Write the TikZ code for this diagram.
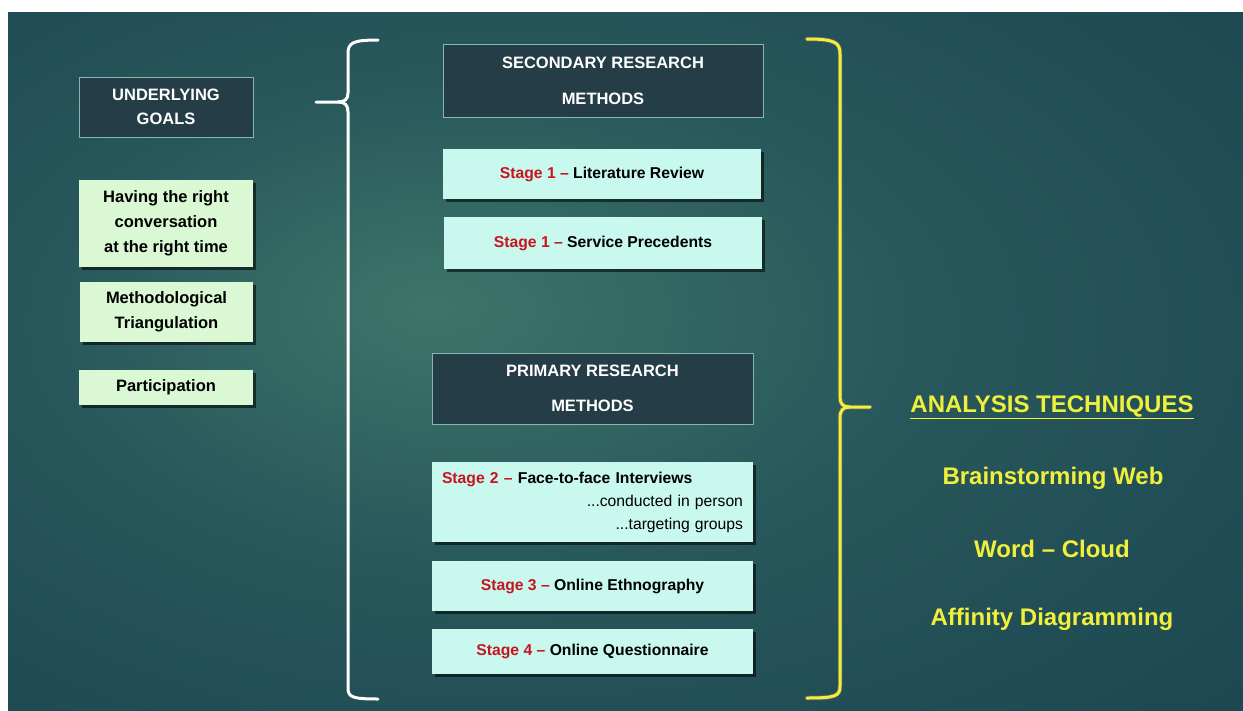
\documentclass[tikz,border=0pt]{standalone}
\usepackage{fontspec}
\setmainfont{Liberation Sans}
\usetikzlibrary{positioning, shadows}

\definecolor{bglight}{HTML}{3D7569}
\definecolor{bgmid}{HTML}{27575B}
\definecolor{bgdark}{HTML}{133848}
\definecolor{boxdark}{HTML}{253D46}
\definecolor{boxedge}{HTML}{86B8B0}
\definecolor{goalgreen}{HTML}{DAF8D4}
\definecolor{stagecyan}{HTML}{C8F8EE}
\definecolor{stagered}{HTML}{C8141E}
\definecolor{techyellow}{HTML}{F0F03C}

% background of the slide, lighter a bit left of centre
\pgfdeclareradialshading{slidebg}{\pgfpoint{-8bp}{4bp}}{color(0bp)=(bglight); color(18bp)=(bgmid); color(58bp)=(bgdark)}

\newcommand{\stg}[1]{\textcolor{stagered}{Stage #1 –}}

\begin{document}
\begin{tikzpicture}[
		% pixel-like units, y pointing down as on the slide
		x=1pt, y=-1pt,
		darkbox/.style={draw=boxedge, line width=1pt, fill=boxdark, text=white,
			font=\fontsize{16.5}{24}\selectfont\bfseries, align=center, inner sep=0pt},
		goalbox/.style={fill=goalgreen, text=black, inner sep=0pt, align=center,
			font=\fontsize{16.5}{25}\selectfont\bfseries,
			drop shadow={shadow xshift=3pt, shadow yshift=-3pt, fill=black, opacity=0.55}},
		stagebox/.style={fill=stagecyan, text=black, inner sep=0pt, align=center,
			font=\fontsize{15.7}{23}\selectfont\bfseries,
			drop shadow={shadow xshift=3pt, shadow yshift=-3pt, fill=black, opacity=0.55}},
		techtext/.style={text=techyellow, font=\fontsize{24}{28}\selectfont\bfseries},
		brace/.style={line width=3pt, line cap=round, line join=round}
		]
		
		% --- 0. CANVAS ---
		\fill[white] (0,0) rectangle (1243,710);
		\useasboundingbox (0,0) rectangle (1243,710);
		\shade[shading=slidebg] (8,12) rectangle (1243,710);
		
		% --- 1. UNDERLYING GOALS (left column) ---
		\node[darkbox, minimum width=174pt, minimum height=60pt] (goals) at (166,107) {UNDERLYING\\GOALS};
		\node[goalbox, minimum width=174pt, minimum height=87pt] (conversation) at (166,223.5) {Having the right\\conversation\\at the right time};
		\node[goalbox, minimum width=173pt, minimum height=60pt] (triangulation) at (166.5,312) {Methodological\\Triangulation};
		\node[goalbox, minimum width=174pt, minimum height=35pt] (participation) at (166,387.5) {Participation};
		
		% --- 2. WHITE BRACE round the methods ---
		\coordinate (wtip) at (316,102);
		\draw[brace, white] (378,40) .. controls (352,40) and (348,43) .. (348,54) -- (348,93)
			.. controls (348,99) and (345,102) .. (338,102) -- (wtip);
		\draw[brace, white] (338,102) .. controls (345,102) and (348,105) .. (348,112) -- (348,688)
			.. controls (348,697) and (352,699) .. (378,699);
		
		% --- 3. SECONDARY RESEARCH METHODS ---
		\node[darkbox, minimum width=320pt, minimum height=73pt] (secondary) at (603,80.5) {SECONDARY RESEARCH\\[12pt]METHODS};
		\node[stagebox, minimum width=318pt, minimum height=50pt] (literature) at (602,174) {\stg{1} Literature Review};
		\node[stagebox, minimum width=318pt, minimum height=52pt] (precedents) at (603,243) {\stg{1} Service Precedents};
		
		% --- 4. PRIMARY RESEARCH METHODS ---
		\node[darkbox, minimum width=321pt, minimum height=71pt] (primary) at (592.5,388.5) {PRIMARY RESEARCH\\[11pt]METHODS};
		\node[stagebox, minimum width=321pt, minimum height=80pt, text width=301pt, align=left] (interviews) at (592.5,502)
			{\stg{2} Face-to-face Interviews\\
			\mbox{}\hfill{\mdseries ...conducted in person}\\
			\mbox{}\hfill{\mdseries ...targeting groups}};
		\node[stagebox, minimum width=321pt, minimum height=50pt] (ethnography) at (592.5,586) {\stg{3} Online Ethnography};
		\node[stagebox, minimum width=321pt, minimum height=45pt] (questionnaire) at (592.5,651.5) {\stg{4} Online Questionnaire};
		
		% --- 5. YELLOW BRACE and ANALYSIS TECHNIQUES ---
		\coordinate (ytip) at (870,407);
		\draw[brace, black!60, line width=4.5pt] (807,39) .. controls (836,39) and (840,43) .. (840,54) -- (840,397)
			.. controls (840,404) and (843,407) .. (850,407) -- (ytip);
		\draw[brace, black!60, line width=4.5pt] (850,407) .. controls (843,407) and (840,410) .. (840,418) -- (840,686)
			.. controls (840,696) and (836,698) .. (807,698);
		\draw[brace, techyellow] (807,39) .. controls (836,39) and (840,43) .. (840,54) -- (840,397)
			.. controls (840,404) and (843,407) .. (850,407) -- (ytip);
		\draw[brace, techyellow] (850,407) .. controls (843,407) and (840,410) .. (840,418) -- (840,686)
			.. controls (840,696) and (836,698) .. (807,698);
		
		\node[techtext] (analysis) at (1052,407) {\underline{ANALYSIS TECHNIQUES}};
		\node[techtext] (brainstorm) at (1053,478) {Brainstorming Web};
		\node[techtext] (wordcloud) at (1052,549) {Word – Cloud};
		\node[techtext] (affinity) at (1052,619) {Affinity Diagramming};
		
	\end{tikzpicture}
\end{document}
